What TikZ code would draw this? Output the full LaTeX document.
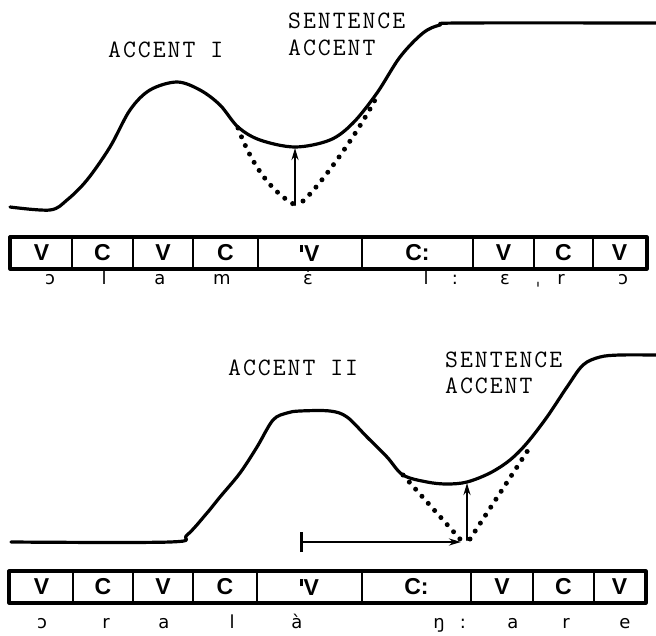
\documentclass[tikz,border=0pt]{standalone}
\usepackage{fontspec}
\setmainfont{Liberation Sans}
\newfontfamily\ipafont{DejaVu Sans}
\newfontfamily\typefont{Latin Modern Mono}[LetterSpace=8]
\usetikzlibrary{arrows.meta}

\begin{document}
\begin{tikzpicture}[x=1pt,y=-1pt,>={Stealth[length=12pt,width=7pt]},line join=round,line cap=round,
	curve/.style={line width=3.2pt},
	dots/.style={line width=5pt,dash pattern=on 0pt off 9.5pt},
	lbl/.style={font=\typefont\fontsize{25}{28}\selectfont,anchor=base west,inner sep=0pt},
	cell/.style={draw,line width=2pt,minimum height=30pt,inner sep=0pt,font=\bfseries\fontsize{23}{25}\selectfont},
	ipa/.style={font=\ipafont\fontsize{18}{20}\selectfont,anchor=base,inner sep=0pt}]
	\useasboundingbox (0,0) rectangle (656,635);
	% --- Accent I: kurva ---
	\draw[curve] plot[smooth,tension=0.55] coordinates {(10,207) (50,210) (67,200) (87,180) (110,147) (130,110) (150,90) (177,82) (200,90) (220,105) (238,127) (260,140) (295,147) (330,140) (353,123) (377,93) (400,57) (423,33) (440,25) (460,23) (656,23)};
	\draw[dots] (238,128) .. controls (250,160) and (268,190) .. (295,205);
	\draw[dots] (303,201) .. controls (320,186) and (360,130) .. (377,96);
	\coordinate (a1) at (295,205);
	\coordinate (b1) at (295,148);
	\draw[->,line width=2.2pt] (a1) -- (b1);
	\node[lbl] (acc1) at (108,57) {ACCENT I};
	\node[lbl] (sent1) at (288,28) {SENTENCE};
	\node[lbl] (sacc1) at (288,55) {ACCENT};
	% --- Segmen atas ---
	\foreach \i/\a/\b/\t in {1/11/72/V,2/72/133/C,3/133/193/V,4/193/258/C,5/258/362/{\rule[9pt]{2.8pt}{7.5pt}\hspace{1pt}V},6/362/473/C:,7/473/534/V,8/534/593/C,9/593/646/V}
		\node[cell,minimum width={(\b-\a)*1pt}] (s\i) at ({(\a+\b)/2},253) {\t};
	\draw[line width=3.2pt] (s1.north west) rectangle (s9.south east);
	\foreach \i/\x/\t in {1/50/ɔ,2/104/l,3/160/a,4/222/m,5/308/ɛ́,6/426/l,7/455/:,8/505/ɛ,9/538/ˌ,10/561/r,11/623/ɔ}
		\node[ipa] (p\i) at (\x,284) {\t};
	% --- Accent II: kurva ---
	\draw[curve] plot[smooth,tension=0.55] coordinates {(11,542) (170,542) (187,535) (207,513) (220,497) (240,473) (257,447) (273,420) (287,413) (300,411) (330,411) (347,417) (367,437) (387,457) (403,475) (427,482) (447,484) (467,482) (490,473) (510,460) (527,443) (547,417) (567,387) (583,365) (600,357) (620,355) (656,355)};
	\draw[dots] (403,475) -- (460,539);
	\draw[dots] (470,539) -- (532,444);
	\coordinate (a2) at (467,540);
	\coordinate (b2) at (467,483);
	\coordinate (h0) at (300,542);
	\coordinate (h1) at (461,542);
	\draw[->,line width=2.2pt] (a2) -- (b2);
	\draw[{Bar[width=20pt,line width=3pt]}->,line width=2.2pt] (h0) -- (h1);
	\node[lbl] (acc2) at (228,375) {ACCENT II};
	\node[lbl] (sent2) at (445,367) {SENTENCE};
	\node[lbl] (sacc2) at (445,393) {ACCENT};
	% --- Segmen bawah ---
	\foreach \i/\a/\b/\t in {1/10/73/V,2/73/133/C,3/133/193/V,4/193/257/C,5/257/362/{\rule[9pt]{2.8pt}{7.5pt}\hspace{1pt}V},6/362/471/C:,7/471/533/V,8/533/594/C,9/594/645/V}
		\node[cell,minimum width={(\b-\a)*1pt}] (t\i) at ({(\a+\b)/2},587) {\t};
	\draw[line width=3.2pt] (t1.north west) rectangle (t9.south east);
	\foreach \i/\x/\t in {1/42/ɔ,2/106/r,3/164/a,4/232/l,5/297/à,6/439/ŋ,7/463/:,8/513/a,9/566/r,10/625/e}
		\node[ipa] (q\i) at (\x,628) {\t};
\end{tikzpicture}
\end{document}
